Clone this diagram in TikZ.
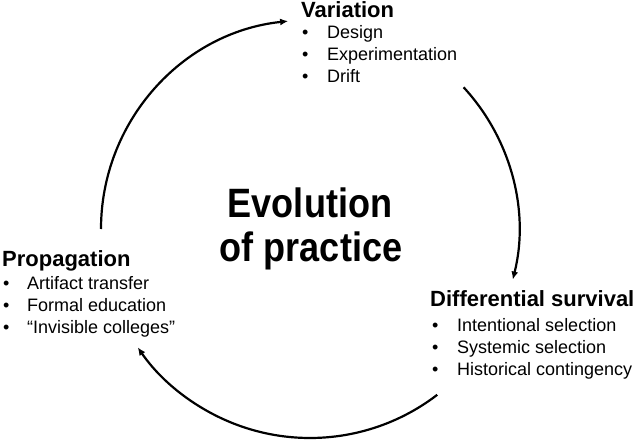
\documentclass[tikz,border=0pt]{standalone}
\usepackage{fontspec}
\setmainfont{Liberation Sans}
\newfontfamily\titlefont[FakeStretch=0.88]{Liberation Sans}
\usepackage{tikz}
\usetikzlibrary{arrows.meta}

\begin{document}
\begin{tikzpicture}[x=1pt,y=1pt,
	head/.style={anchor=base west,inner sep=0pt,font=\fontsize{22}{26}\selectfont\bfseries},
	item/.style={anchor=base west,inner sep=0pt,font=\fontsize{18}{22}\selectfont},
	bigtitle/.style={anchor=base,inner sep=0pt,font=\titlefont\fontsize{41}{44}\selectfont\bfseries},
	cyc/.style={line width=2.2pt,-{Latex[length=8pt,width=7pt]}}]
			\useasboundingbox (0,0) rectangle (640,440);
			\coordinate (ctr) at (310,211);
			
			\node[bigtitle] (evo) at (310,223) {Evolution};
			\node[bigtitle] (prac) at (311,179) {of practice};
			
			\node[head] (var) at (301,422) {Variation};
			\foreach \t [count=\i] in {Design,Experimentation,Drift}
				\node[item] (var\i) at (302,423-22*\i) {\makebox[25pt][l]{•}\t};
			
			\node[head] (sel) at (430,134) {Differential survival};
			\foreach \t [count=\i] in {Intentional selection,Systemic selection,Historical contingency}
				\node[item] (sel\i) at (432,131-22*\i) {\makebox[25pt][l]{•}\t};
			
			\node[head] (prop) at (2,174) {Propagation};
			\foreach \t [count=\i] in {Artifact transfer,Formal education,“Invisible colleges”}
				\node[item] (prop\i) at (3,173-22*\i) {\makebox[24pt][l]{•}\t};
			
			\path (ctr) ++(180:209) coordinate (pv);
			\path (ctr) ++(42.7:209) coordinate (vs);
			\path (ctr) ++(-52.5:209) coordinate (sp);
			
			\draw[cyc] (pv) arc[start angle=180,end angle=96,radius=209pt];
			\draw[cyc] (vs) arc[start angle=42.7,end angle=-14,radius=209pt];
			\draw[cyc] (sp) arc[start angle=-52.5,end angle=-145.5,radius=209pt];
		\end{tikzpicture}
\end{document}
